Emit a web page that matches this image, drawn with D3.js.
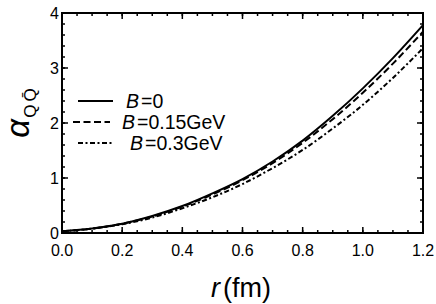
<!DOCTYPE html>
<html>
<head>
<meta charset="utf-8">
<script src="https://d3js.org/d3.v7.min.js"></script>
<style>
  body { margin: 0; background: #fff; }
  text { font-family: "Liberation Sans", Arial, sans-serif; fill: #000; }
</style>
</head>
<body>
<div id="chart"></div>
<script>
// values
var rVals = [0, 0.1, 0.2, 0.3, 0.4, 0.5, 0.6, 0.7, 0.8, 0.9, 1.0, 1.1, 1.2];
var alphaB0   = [0.03, 0.08, 0.17, 0.31, 0.49, 0.72, 0.98, 1.30, 1.68, 2.13, 2.63, 3.18, 3.78];
var alphaB015 = [0.03, 0.08, 0.17, 0.30, 0.48, 0.70, 0.96, 1.27, 1.64, 2.07, 2.55, 3.08, 3.66];
var alphaB03  = [0.03, 0.08, 0.16, 0.28, 0.45, 0.65, 0.89, 1.18, 1.51, 1.90, 2.33, 2.82, 3.36];
var seriesNames = ["=0", "=0.15GeV", "=0.3GeV"];
var xTicks = [0, 0.2, 0.4, 0.6, 0.8, 1.0, 1.2];
var yTicks = [0, 1, 2, 3, 4];

var width = 436, height = 304;
var margin = {left: 62, right: 13, top: 13, bottom: 71};

var svg = d3.select("#chart").append("svg")
  .attr("width", width)
  .attr("height", height);

var x = d3.scaleLinear().domain([0, 1.2]).range([margin.left, width - margin.right]);
var y = d3.scaleLinear().domain([0, 4]).range([height - margin.bottom, margin.top]);

// minor + major ticks, drawn inward on all four sides
var xMinor = d3.range(0, 1.2001, 0.05);
var yMinor = d3.range(0, 4.001, 0.2);

function tickLines(g, vals, isX, side, len) {
  g.selectAll(null).data(vals).enter().append("line")
    .attr("x1", function(d) { return isX ? x(d) : (side === "l" ? x(0) : x(1.2)); })
    .attr("x2", function(d) { return isX ? x(d) : (side === "l" ? x(0) + len : x(1.2) - len); })
    .attr("y1", function(d) { return isX ? (side === "b" ? y(0) : y(4)) : y(d); })
    .attr("y2", function(d) { return isX ? (side === "b" ? y(0) - len : y(4) + len) : y(d); })
    .attr("stroke", "#000")
    .attr("stroke-width", 1.5);
}

var ticks = svg.append("g");
tickLines(ticks, xMinor, true, "b", 3);
tickLines(ticks, xMinor, true, "t", 3);
tickLines(ticks, xTicks, true, "b", 6);
tickLines(ticks, xTicks, true, "t", 6);
tickLines(ticks, yMinor, false, "l", 3);
tickLines(ticks, yMinor, false, "r", 3);
tickLines(ticks, yTicks, false, "l", 6);
tickLines(ticks, yTicks, false, "r", 6);

// frame
svg.append("rect")
  .attr("x", x(0)).attr("y", y(4))
  .attr("width", x(1.2) - x(0)).attr("height", y(0) - y(4))
  .attr("fill", "none").attr("stroke", "#000").attr("stroke-width", 2);

// tick labels
svg.append("g").selectAll("text").data(xTicks).enter().append("text")
  .attr("x", function(d) { return x(d); })
  .attr("y", y(0) + 23)
  .attr("text-anchor", "middle")
  .attr("font-size", 16)
  .text(function(d) { return d3.format(".1f")(d); });

svg.append("g").selectAll("text").data(yTicks).enter().append("text")
  .attr("x", x(0) - 3)
  .attr("y", function(d) { return y(d) + 6; })
  .attr("text-anchor", "end")
  .attr("font-size", 16)
  .text(function(d) { return d; });

// curves
var dashes = [null, "7,3.5", "5,2.5,2,2.5"];
var allSeries = [alphaB0, alphaB015, alphaB03];
var line = d3.line()
  .x(function(d, i) { return x(rVals[i]); })
  .y(function(d) { return y(d); })
  .curve(d3.curveMonotoneX);

allSeries.forEach(function(s, k) {
  svg.append("path")
    .datum(s)
    .attr("d", line)
    .attr("fill", "none")
    .attr("stroke", "#000")
    .attr("stroke-width", 2)
    .attr("stroke-dasharray", dashes[k]);
});

// legend
var legendRows = [
  {x1: 78, x2: 113, y: 101, tx: 126},
  {x1: 73, x2: 110, y: 122, tx: 122},
  {x1: 78, x2: 112, y: 143, tx: 130}
];
legendRows.forEach(function(r, k) {
  svg.append("line")
    .attr("x1", r.x1).attr("x2", r.x2)
    .attr("y1", r.y).attr("y2", r.y)
    .attr("stroke", "#000").attr("stroke-width", 2)
    .attr("stroke-dasharray", dashes[k]);
  var t = svg.append("text")
    .attr("x", r.tx).attr("y", r.y + 7)
    .attr("font-size", 19.5);
  t.append("tspan").attr("font-style", "italic").text("B");
  t.append("tspan").attr("dx", 2).text(seriesNames[k]);
});

// axis titles
var xt = svg.append("text")
  .attr("x", 241).attr("y", 297)
  .attr("text-anchor", "middle")
  .attr("font-size", 27);
xt.append("tspan").attr("font-style", "italic").text("r");
xt.append("tspan").attr("dx", 3).text("(fm)");

var yt = svg.append("text")
  .attr("transform", "translate(29,113) rotate(-90)")
  .attr("text-anchor", "middle");
yt.append("tspan").attr("font-style", "italic").attr("font-size", 33).text("α");
yt.append("tspan").attr("font-size", 17).attr("dy", 7).attr("dx", 1).text("Q");
yt.append("tspan").attr("font-size", 17).attr("dx", 3).text("Q\u0304");
</script>
</body>
</html>
